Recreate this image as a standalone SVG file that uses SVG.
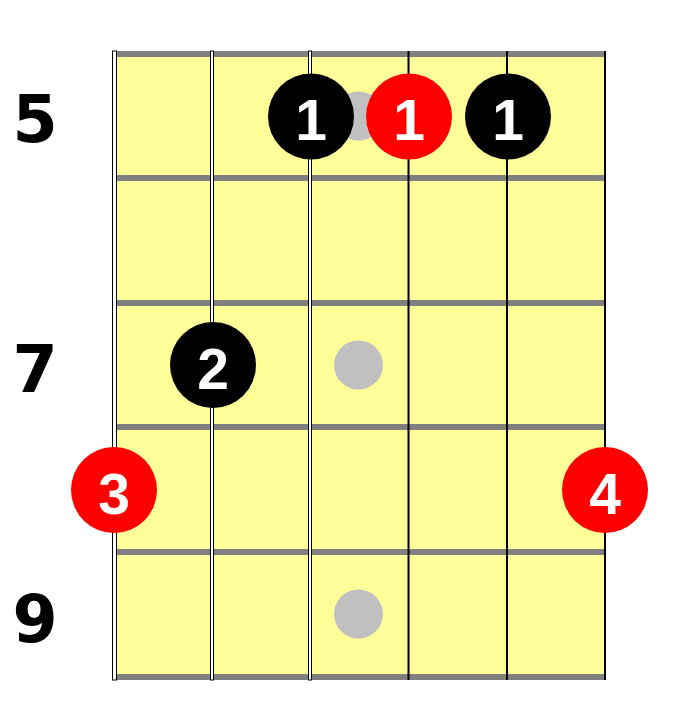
<svg xmlns="http://www.w3.org/2000/svg" width="678" height="709" viewBox="0 0 678 709">
<style>
.fret{fill:#808080}
.thick{fill:#ffffff;stroke:#000000;stroke-width:1}
.thin{stroke:#000000;stroke-width:2}
.inlay{fill:#c0c0c0}
.blk{fill:#000000}
.red{fill:#ff0000}
.fnum{font-family:"Liberation Sans",Arial,sans-serif;font-weight:bold;font-size:57px;fill:#ffffff;text-anchor:middle}
.lbl{font-family:"DejaVu Sans",Verdana,sans-serif;font-weight:bold;font-size:65px;fill:#000000;text-anchor:middle}
</style>
<rect width="678" height="709" fill="#ffffff"/>
<g id="fretboard">
<rect x="116" y="51" width="490" height="629" fill="#ffff99"/>
<rect class="fret" x="116" y="51" width="490" height="6"/>
<rect class="fret" x="116" y="175" width="490" height="6"/>
<rect class="fret" x="116" y="300" width="490" height="6"/>
<rect class="fret" x="116" y="424" width="490" height="6"/>
<rect class="fret" x="116" y="549" width="490" height="6"/>
<rect class="fret" x="116" y="674" width="490" height="6"/>
</g>
<g id="strings">
<rect class="thick" x="112.5" y="51" width="4" height="629"/>
<rect class="thick" x="210.5" y="51" width="3" height="629"/>
<rect class="thick" x="308.5" y="51" width="3" height="629"/>
<line class="thin" x1="408.5" y1="51" x2="408.5" y2="680"/>
<line class="thin" x1="507" y1="51" x2="507" y2="680"/>
<line class="thin" x1="605" y1="51" x2="605" y2="680"/>
</g>
<g id="inlays">
<circle class="inlay" cx="358.5" cy="116" r="24.5"/>
<circle class="inlay" cx="358.5" cy="365" r="24.5"/>
<circle class="inlay" cx="358.5" cy="614" r="24.5"/>
</g>
<g id="labels">
<text class="lbl" x="35" y="142">5</text>
<text class="lbl" x="35" y="392">7</text>
<text class="lbl" x="35" y="642">9</text>
</g>
<g id="n1a"><circle class="blk" cx="311" cy="116.5" r="43"/><text class="fnum" x="311" y="140">1</text></g>
<g id="n1b"><circle class="red" cx="409" cy="116.5" r="43"/><text class="fnum" x="409" y="140">1</text></g>
<g id="n1c"><circle class="blk" cx="508" cy="116.5" r="43"/><text class="fnum" x="508" y="140">1</text></g>
<g id="n2"><circle class="blk" cx="213" cy="365" r="43"/><text class="fnum" x="213" y="389">2</text></g>
<g id="n3"><circle class="red" cx="114" cy="490" r="43"/><text class="fnum" x="114" y="514">3</text></g>
<g id="n4"><circle class="red" cx="605" cy="490" r="43"/><text class="fnum" x="605" y="514">4</text></g>
</svg>
